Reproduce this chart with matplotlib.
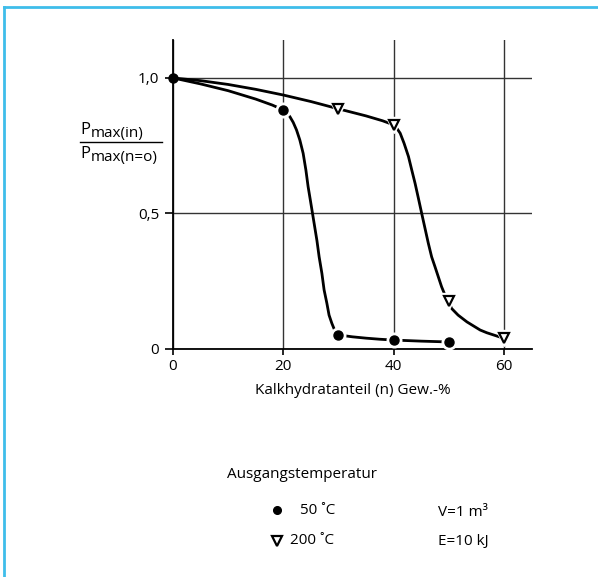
import matplotlib.pyplot as plt
from matplotlib.lines import Line2D

plt.rcParams['font.family'] = ['Open Sans', 'DejaVu Sans']

# Messpunkte
x_50 = [0, 20, 30, 40, 50]
y_50 = [1.0, 0.882, 0.052, 0.033, 0.026]
x_200 = [30, 40, 50, 60]
y_200 = [0.884, 0.825, 0.177, 0.04]

# Kurvenverlauf
curve_50_x = [0, 5, 10, 15, 18, 20, 20.6, 21.2, 21.8, 22.4, 23.0, 23.6, 24.1, 24.5, 24.9, 25.3, 25.7, 26.1,
              26.5, 27.0, 27.4, 27.9, 28.3, 28.8, 29.3, 29.7, 30, 32.5, 35, 37.5, 40, 45, 50]
curve_50_y = [1.0, 0.978, 0.953, 0.922, 0.9, 0.882, 0.872, 0.857, 0.836, 0.808, 0.771, 0.722, 0.66, 0.599,
              0.55, 0.50, 0.45, 0.40, 0.34, 0.279, 0.218, 0.169, 0.125, 0.095, 0.07, 0.058, 0.052, 0.045,
              0.040, 0.036, 0.033, 0.029, 0.026]
curve_200_x = [0, 5, 10, 15, 20, 25, 30, 35, 38, 40, 40.6, 41.2, 41.9, 42.7, 43.3, 43.9, 44.5, 45.1, 45.7,
               46.3, 46.9, 47.5, 48.1, 48.7, 49.3, 50, 50.5, 51.7, 53.3, 54.5, 55.7, 56.9, 58.1, 59.3, 60]
curve_200_y = [1.0, 0.99, 0.976, 0.958, 0.937, 0.913, 0.886, 0.86, 0.842, 0.827, 0.814, 0.796, 0.759, 0.71,
               0.66, 0.611, 0.556, 0.50, 0.445, 0.39, 0.34, 0.304, 0.267, 0.23, 0.2, 0.177, 0.15, 0.125,
               0.10, 0.085, 0.07, 0.06, 0.052, 0.044, 0.04]

x_ticks = [0, 20, 40, 60]
y_ticks = [0, 0.5, 1.0]
y_labels = ['0', '0,5', '1,0']

W, H = 598, 577
fig = plt.figure(figsize=(W / 100, H / 100), dpi=100)
ax = fig.add_axes([173 / W, 1 - 349 / H, (532 - 173) / W, (349 - 40) / H])

ax.set_xlim(0, 65.1)
ax.set_ylim(0, 1.14)
ax.set_xticks(x_ticks)
ax.set_yticks(y_ticks)
ax.set_yticklabels(y_labels)
ax.tick_params(axis='x', length=4, width=1.2, pad=3, labelsize=11)
ax.tick_params(axis='y', length=6, width=1.2, pad=4, labelsize=11)
for s in ['top', 'right']:
    ax.spines[s].set_visible(False)
for s in ['left', 'bottom']:
    ax.spines[s].set_linewidth(1.3)
ax.grid(True, color='#333333', linewidth=1.0)
ax.set_axisbelow(True)

ax.plot(curve_50_x, curve_50_y, color='black', lw=2.0, zorder=3, solid_capstyle='round', solid_joinstyle='round')
ax.plot(curve_200_x, curve_200_y, color='black', lw=2.0, zorder=3, solid_capstyle='round', solid_joinstyle='round')

# weisse Aussparung um die Marker
ax.plot(x_50[1:], y_50[1:], 'o', ms=10.5, color='white', zorder=4, clip_on=False)
ax.plot(x_200, y_200, 'v', ms=11.5, color='white', zorder=4, clip_on=False)
ax.plot(x_50, y_50, 'o', ms=6.5, color='black', zorder=5, clip_on=False)
ax.plot(x_200, y_200, 'v', ms=7, mfc='white', mec='black', mew=1.6, zorder=5, clip_on=False)

ax.set_xlabel('Kalkhydratanteil (n) Gew.-%', fontsize=11, labelpad=7)

# Bruch als y-Beschriftung
fig.text(80 / W, 1 - 133.5 / H, 'P', fontsize=12, ha='left', va='baseline')
fig.text(91 / W, 1 - 137.5 / H, 'max(in)', fontsize=11, ha='left', va='baseline')
fig.text(80 / W, 1 - 158.5 / H, 'P', fontsize=12, ha='left', va='baseline')
fig.text(91 / W, 1 - 161 / H, 'max(n=o)', fontsize=11, ha='left', va='baseline')
fig.add_artist(Line2D([80 / W, 162 / W], [1 - 142 / H, 1 - 142 / H], color='black', lw=1.0,
                      transform=fig.transFigure))

# Legende
fig.text(227 / W, 1 - 474 / H, 'Ausgangstemperatur', fontsize=11, ha='left', va='center')
fig.add_artist(Line2D([277 / W], [1 - 510 / H], marker='o', ms=5.5, color='black', transform=fig.transFigure))
fig.add_artist(Line2D([277 / W], [1 - 541 / H], marker='v', ms=6.5, mfc='white', mec='black', mew=1.6,
                      transform=fig.transFigure))
fig.text(300 / W, 1 - 510 / H, '50 ˚C', fontsize=11, ha='left', va='center')
fig.text(290 / W, 1 - 541 / H, '200 ˚C', fontsize=11, ha='left', va='center')
fig.text(438 / W, 1 - 512 / H, 'V=1 m³', fontsize=11, ha='left', va='center')
fig.text(438 / W, 1 - 541 / H, 'E=10 kJ', fontsize=11, ha='left', va='center')

# blauer Rahmen
frame_col = '#3fbdea'
fig.add_artist(Line2D([4 / W, 4 / W], [0, 1 - 6.5 / H], color=frame_col, lw=2.0, transform=fig.transFigure))
fig.add_artist(Line2D([4 / W, 1], [1 - 6.5 / H, 1 - 6.5 / H], color=frame_col, lw=2.0,
                      transform=fig.transFigure))

fig.savefig('out.png', dpi=100)
